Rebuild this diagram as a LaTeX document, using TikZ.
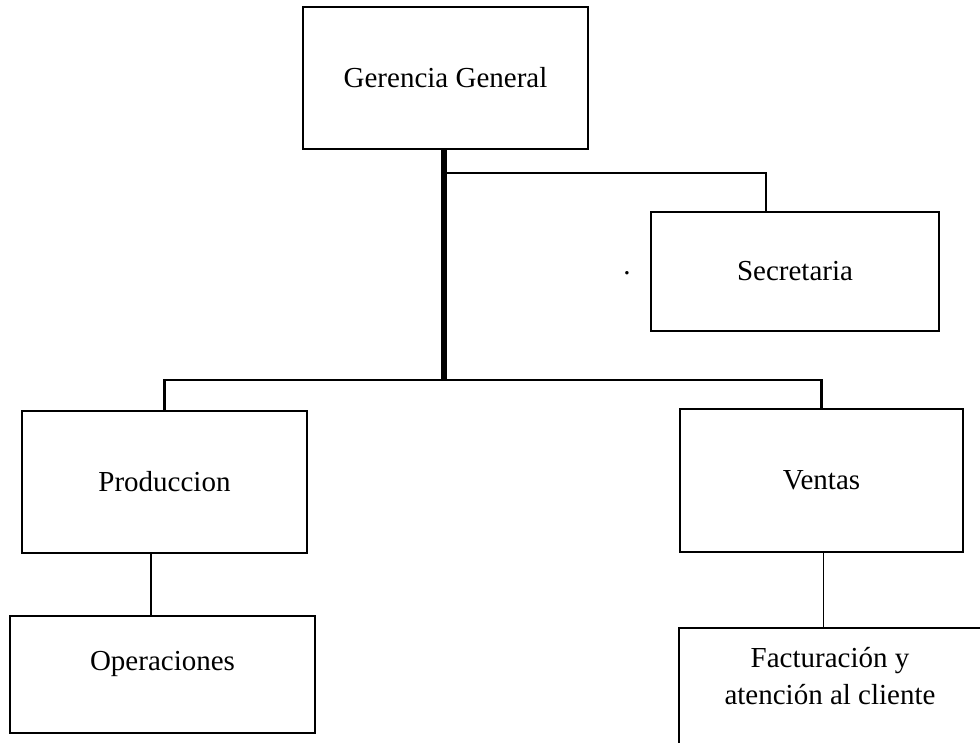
\documentclass[tikz,border=0pt]{standalone}
\usepackage{fontspec}
\setmainfont{Liberation Serif}
\begin{document}
\begin{tikzpicture}[x=1pt,y=-1pt,
  box/.style={draw,line width=2.6pt,rectangle,inner sep=0pt,outer sep=0pt,
    anchor=north west,font=\fontsize{29}{37}\selectfont},
  lbl/.style={inner sep=0pt,outer sep=0pt,align=center,font=\fontsize{29}{37}\selectfont},
  thinline/.style={line width=1.1pt},
  busline/.style={line width=2.2pt},
  trunkline/.style={line width=6pt}]
  % page frame
  \clip (0,0) rectangle (980,742);
  \fill[white] (0,0) rectangle (980,742);

  % boxes
  \node[box,minimum width=285pt,minimum height=142pt] (gg) at (303,7) {Gerencia General};
  \node[box,minimum width=288pt,minimum height=119pt] (sec) at (651,212) {Secretaria};
  \node[box,minimum width=285pt,minimum height=142pt] (prod) at (22,411) {Produccion};
  \node[box,minimum width=283pt,minimum height=143pt] (vent) at (680,409) {Ventas};
  \node[box,minimum width=305pt,minimum height=117pt,text height=20pt,text depth=29pt] (oper) at (10,616) {Operaciones};
  \node[box,minimum width=302pt,minimum height=140pt] (fact) at (679,628) {};
  \node[lbl] (facttxt) at (830,676.5) {Facturación y\\atención al cliente};
  \node[lbl] (dot) at (627,273) {.};

  % junction points
  \coordinate (j) at (444,380);
  \coordinate (ggtap) at (447,173);
  \coordinate (secin) at (766,212);
  \coordinate (pc) at (151,553);
  \coordinate (vc) at (823.5,552);

  % connectors
  \draw[trunkline] (gg.south -| j) -- (j);
  \draw[thinline] (ggtap) -| (secin);
  \draw[busline] (prod.north) |- (j) -| (vent.north);
  \draw[thinline] (pc) -- (pc |- oper.north);
  \draw[thinline] (vc) -- (vc |- fact.north);
\end{tikzpicture}
\end{document}
